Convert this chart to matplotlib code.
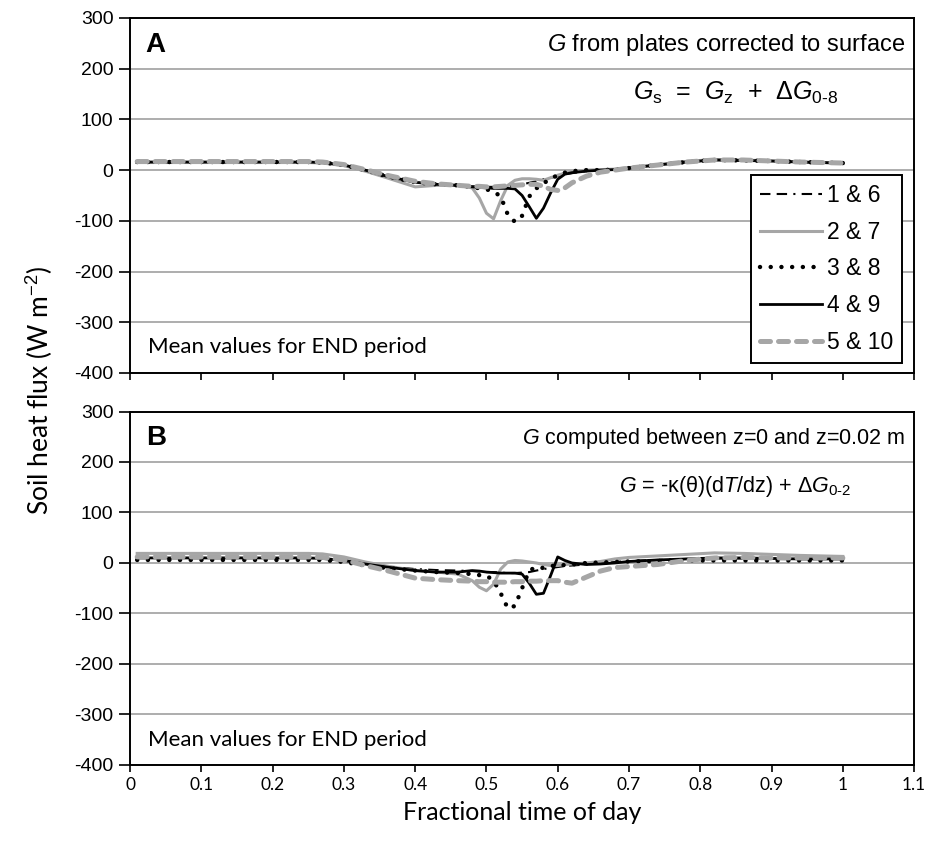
import matplotlib
matplotlib.use('Agg')
import matplotlib.pyplot as plt

plt.rcParams['font.family'] = ['Liberation Sans', 'DejaVu Sans']
plt.rcParams['mathtext.fontset'] = 'custom'
plt.rcParams['mathtext.rm'] = 'Liberation Sans'
plt.rcParams['mathtext.it'] = 'Liberation Sans:italic'

# fractional time of day
frac_time = [0.01, 0.05, 0.10, 0.15, 0.20, 0.25, 0.27,
             0.30, 0.33, 0.36, 0.40, 0.43, 0.46, 0.48,
             0.49, 0.50, 0.51, 0.52, 0.53, 0.54, 0.55, 0.56, 0.57, 0.58, 0.59, 0.60, 0.61, 0.62,
             0.64, 0.66, 0.68, 0.70, 0.74, 0.78, 0.82, 0.86, 0.90, 0.94, 0.97, 1.00]

# panel A: G from plates corrected to surface (W m-2)
a_1_6 = [16, 16, 16, 16, 16, 16, 15,
         10, 0, -12, -24, -28, -30, -32,
         -32, -33, -33, -32, -32, -30, -28, -25, -22, -18, -15, -12, -8, -6,
         -2, 0, 1, 4, 10, 16, 20, 19, 18, 16, 15, 14]
a_2_7 = [15, 15, 15, 15, 15, 15, 14,
         9, -2, -15, -33, -30, -30, -35,
         -55, -85, -96, -60, -30, -20, -17, -17, -18, -20, -15, -10, -6, -3,
         0, 1, 2, 5, 11, 17, 21, 20, 18, 16, 15, 13]
a_3_8 = [16, 16, 16, 16, 16, 16, 15,
         10, 0, -12, -24, -28, -30, -33,
         -36, -38, -42, -52, -88, -102, -90, -52, -36, -26, -17, -10, -5, -2,
         0, 0, 1, 4, 10, 16, 20, 19, 18, 16, 15, 14]
a_4_9 = [16, 16, 16, 16, 16, 16, 15,
         10, 0, -12, -24, -28, -30, -33,
         -34, -35, -36, -36, -36, -37, -50, -72, -95, -75, -45, -18, -8, -5,
         -2, 0, 1, 4, 10, 16, 20, 19, 18, 16, 15, 14]
a_5_10 = [17, 17, 17, 17, 17, 17, 16,
          11, 1, -10, -22, -27, -30, -32,
          -32, -33, -33, -32, -31, -30, -29, -28, -28, -32, -38, -40, -35, -25,
          -12, -4, 0, 4, 10, 16, 20, 20, 18, 16, 15, 14]

# panel B: G computed between z=0 and z=0.02 m (W m-2)
b_1_6 = [10, 10, 10, 10, 10, 10, 9,
         5, -2, -7, -12, -14, -15, -16,
         -17, -18, -18, -19, -20, -20, -19, -18, -15, -12, -10, -8, -6, -5,
         -3, -1, 2, 4, 6, 8, 9, 9, 9, 8, 8, 8]
b_2_7 = [19, 19, 19, 19, 19, 19, 18,
         12, 2, -6, -15, -18, -22, -35,
         -48, -55, -42, -12, 2, 5, 4, 2, 0, -3, -5, -5, -3, -2,
         0, 3, 8, 11, 14, 17, 20, 19, 17, 15, 14, 13]
b_3_8 = [6, 6, 6, 6, 6, 6, 6,
         2, -5, -10, -15, -18, -20, -22,
         -24, -25, -35, -60, -90, -85, -50, -15, -8, -10, -6, -5, -4, -3,
         0, 1, 2, 3, 4, 5, 5, 5, 5, 5, 5, 5]
b_4_9 = [10, 10, 10, 10, 10, 10, 9,
         5, -2, -8, -15, -18, -18, -15,
         -16, -18, -19, -20, -20, -20, -22, -40, -62, -60, -25, 12, 5, 0,
         -3, -2, 0, 3, 6, 8, 10, 10, 9, 8, 8, 8]
b_5_10 = [12, 12, 12, 12, 12, 12, 11,
          6, -5, -15, -30, -33, -35, -36,
          -37, -37, -38, -38, -38, -37, -37, -36, -36, -35, -35, -35, -38, -40,
          -28, -16, -9, -7, -3, 5, 10, 11, 10, 10, 10, 10]

labels = ['1 & 6', '2 & 7', '3 & 8', '4 & 9', '5 & 10']
xticks = [0, 0.1, 0.2, 0.3, 0.4, 0.5, 0.6, 0.7, 0.8, 0.9, 1, 1.1]
xtick_labels = ['0', '0.1', '0.2', '0.3', '0.4', '0.5', '0.6', '0.7', '0.8', '0.9', '1', '1.1']
yticks = [-400, -300, -200, -100, 0, 100, 200, 300]

GRAY = '#a6a6a6'
styles = [
    dict(color='black', lw=1.5, ls=(0, (5, 3, 5, 3, 1, 3))),
    dict(color=GRAY, lw=2.2, ls='-'),
    dict(color='black', lw=3.2, ls=(0, (0.01, 2.4)), dash_capstyle='round'),
    dict(color='black', lw=2.0, ls='-'),
    dict(color=GRAY, lw=3.6, ls=(0, (2.0, 1.6)), dash_capstyle='round'),
]


def draw_panel(ax, series, letter, title, title_size, formula, formula_size):
    for s, st, lab in zip(series, styles, labels):
        ax.plot(frac_time, s, label=lab, **st)
    ax.set_xlim(0, 1.1)
    ax.set_ylim(-400, 300)
    ax.set_yticks(yticks)
    ax.set_yticklabels([str(v) for v in yticks], fontsize=14)
    ax.set_xticks(xticks)
    ax.yaxis.grid(True, color='#a0a0a0', lw=1.2)
    ax.set_axisbelow(True)
    for sp in ax.spines.values():
        sp.set_color('black')
        sp.set_linewidth(1.4)
    ax.tick_params(axis='y', direction='out', length=8, width=1.2, pad=4)
    ax.tick_params(axis='x', direction='out', length=5, width=1.2)
    ax.text(0.02, 0.925, letter, transform=ax.transAxes, fontsize=20,
            fontweight='bold', va='center', ha='left')
    ax.text(0.988, 0.925, title, transform=ax.transAxes, fontsize=title_size,
            va='center', ha='right')
    ax.text(0.772, 0.788, formula, transform=ax.transAxes, fontsize=formula_size,
            va='center', ha='center')
    ax.text(0.023, 0.072, 'Mean values for END period', transform=ax.transAxes,
            fontsize=16, family=['Lato', 'DejaVu Sans'], va='center', ha='left')


fig = plt.figure(figsize=(9.29, 8.41), dpi=100)
ax_a = fig.add_axes([0.140, 0.5565, 0.844, 0.4221])
ax_b = fig.add_axes([0.140, 0.0904, 0.844, 0.4203])

draw_panel(ax_a, [a_1_6, a_2_7, a_3_8, a_4_9, a_5_10], 'A',
           r'$G$ from plates corrected to surface', 17,
           r'$G_\mathrm{s}$  =  $G_\mathrm{z}$  +  Δ$G_{\mathrm{0\text{-}8}}$', 18)
draw_panel(ax_b, [b_1_6, b_2_7, b_3_8, b_4_9, b_5_10], 'B',
           r'$G$ computed between z=0 and z=0.02 m', 15.5,
           r'$G$ = -κ(θ)(d$T$/dz) + Δ$G_{\mathrm{0\text{-}2}}$', 15.5)

ax_a.set_xticklabels([])
ax_b.set_xticklabels(xtick_labels, fontsize=12.5, family=['Lato', 'DejaVu Sans'])
ax_b.set_xlabel('Fractional time of day', fontsize=18, family=['Lato', 'DejaVu Sans'], labelpad=6)

leg = ax_a.legend(loc='lower right', bbox_to_anchor=(0.985, 0.028), fontsize=16.5,
                  frameon=True, fancybox=False, edgecolor='black', framealpha=1,
                  handlelength=2.7, handletextpad=0.2, labelspacing=0.6,
                  borderpad=0.4, borderaxespad=0)
leg.get_frame().set_linewidth(1.4)

fig.text(0.043, 0.536, 'Soil heat flux (W m$^{-2}$)', rotation=90, fontsize=19,
         family=['Lato', 'DejaVu Sans'], va='center', ha='center')

fig.savefig('out.png', dpi=100)
plt.close(fig)
